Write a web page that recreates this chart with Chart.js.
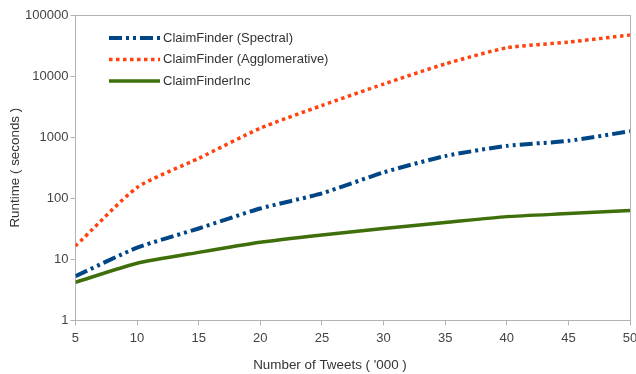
<!DOCTYPE html>
<html><head><meta charset="utf-8">
<script src="https://cdn.jsdelivr.net/npm/chart.js@4/dist/chart.umd.min.js"></script>
<style>html,body{margin:0;padding:0;background:#fff}#w{width:636px;height:374px}</style>
</head><body><div id="w"><canvas id="c"></canvas></div>
<script>
const tweets = [5, 10, 15, 20, 25, 30, 35, 40, 45, 50];
const spectral = [5.3, 15.5, 32, 68, 120, 265, 490, 720, 870, 1250];
const agglomerative = [16.5, 150, 450, 1400, 3300, 7400, 15800, 29000, 36000, 47000];
const inc = [4.2, 8.6, 13, 19, 25, 32, 40, 50, 56, 63];
const yTicks = [1, 10, 100, 1000, 10000, 100000];
const seriesNames = ['ClaimFinder (Spectral)', 'ClaimFinder (Agglomerative)', 'ClaimFinderInc'];
const xTitle = "Number of Tweets ( '000 )";
const yTitle = 'Runtime ( seconds )';

const pts = arr => tweets.map((x, i) => ({x, y: arr[i]}));
const FONT = '"Liberation Sans", Arial, sans-serif';
const AXIS = '#b3b3b3';

const frame = {
  id: 'frame',
  beforeDatasetsDraw(chart) {
    const a = chart.chartArea, ctx = chart.ctx;
    ctx.save(); ctx.strokeStyle = AXIS; ctx.lineWidth = 1;
    ctx.strokeRect(Math.round(a.left) + 0.5, Math.round(a.top) + 0.5, Math.round(a.right - a.left), Math.round(a.bottom - a.top));
    ctx.restore();
  },
  afterDraw(chart) {
    const ctx = chart.ctx;
    ctx.save();
    ctx.font = '13px ' + FONT;
    ctx.textBaseline = 'middle';
    chart.data.datasets.forEach((ds, i) => {
      const y = 38 + i * 21.5;
      ctx.strokeStyle = ds.borderColor;
      ctx.lineWidth = ds.borderWidth;
      ctx.setLineDash(ds.borderDash || []);
      ctx.lineCap = 'butt';
      ctx.beginPath(); ctx.moveTo(109, y); ctx.lineTo(160, y); ctx.stroke();
      ctx.setLineDash([]);
      ctx.fillStyle = '#333';
      ctx.fillText(ds.label, 163, y);
    });
    ctx.font = '13.4px ' + FONT;
    ctx.textAlign = 'center';
    ctx.fillStyle = '#333';
    ctx.fillText(xTitle, 330, 365);
    ctx.restore();
  }
};

new Chart(document.getElementById('c'), {
  type: 'line',
  data: {
    datasets: [
      {label: seriesNames[0], data: pts(spectral), borderColor: '#004586', borderWidth: 4, borderDash: [13, 4, 3, 4, 3, 4], pointRadius: 0, tension: 0.2, fill: false},
      {label: seriesNames[1], data: pts(agglomerative), borderColor: '#ff420e', borderWidth: 3.5, borderDash: [3.5, 3.5], pointRadius: 0, tension: 0.2, fill: false},
      {label: seriesNames[2], data: pts(inc), borderColor: '#3f6f0b', borderWidth: 3.5, pointRadius: 0, tension: 0.2, fill: false}
    ]
  },
  options: {
    responsive: true, maintainAspectRatio: false, animation: false,
    layout: {padding: {left: 7, right: 6, top: 15, bottom: 23}},
    plugins: {legend: {display: false}, tooltip: {enabled: false}},
    scales: {
      x: {
        type: 'linear', min: 5, max: 50,
        afterFit(scale) { scale.paddingRight = 0; },
        ticks: {stepSize: 5, color: '#444', font: {family: FONT, size: 13}, padding: 5},
        grid: {drawOnChartArea: false, tickLength: 5, color: AXIS},
        border: {color: AXIS}
      },
      y: {
        type: 'logarithmic', min: 1, max: 100000,
        afterBuildTicks(axis) { axis.ticks = yTicks.map(v => ({value: v})); },
        ticks: {color: '#444', font: {family: FONT, size: 13}, padding: 2, callback: v => String(v)},
        grid: {drawOnChartArea: false, tickLength: 5, color: AXIS},
        border: {color: AXIS},
        title: {display: true, text: yTitle, color: '#333', font: {family: FONT, size: 13.4}, padding: {top: 0, bottom: 0}}
      }
    }
  },
  plugins: [frame]
});
</script></body></html>
